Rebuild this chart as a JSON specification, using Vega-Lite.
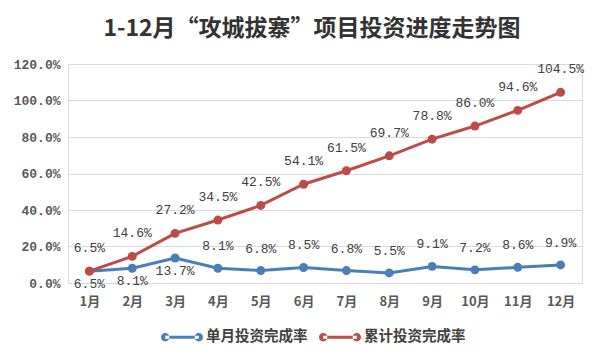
{
  "$schema": "https://vega.github.io/schema/vega-lite/v6.json",
  "width": 514,
  "height": 219,
  "autosize": {"type": "none"},
  "padding": {"left": 68, "top": 64, "right": 21, "bottom": 80},
  "background": "white",
  "title": {
    "text": "1-12月“攻城拔寨”项目投资进度走势图",
    "font": "Noto Sans CJK SC",
    "fontSize": 23,
    "fontWeight": "bold",
    "color": "#333333",
    "anchor": "middle",
    "dx": -13,
    "offset": 17
  },
  "data": {
    "values": [
      {"month": "1月", "series": "单月投资完成率", "value": 0.065},
      {"month": "2月", "series": "单月投资完成率", "value": 0.081},
      {"month": "3月", "series": "单月投资完成率", "value": 0.137},
      {"month": "4月", "series": "单月投资完成率", "value": 0.081},
      {"month": "5月", "series": "单月投资完成率", "value": 0.068},
      {"month": "6月", "series": "单月投资完成率", "value": 0.085},
      {"month": "7月", "series": "单月投资完成率", "value": 0.068},
      {"month": "8月", "series": "单月投资完成率", "value": 0.055},
      {"month": "9月", "series": "单月投资完成率", "value": 0.091},
      {"month": "10月", "series": "单月投资完成率", "value": 0.072},
      {"month": "11月", "series": "单月投资完成率", "value": 0.086},
      {"month": "12月", "series": "单月投资完成率", "value": 0.099},
      {"month": "1月", "series": "累计投资完成率", "value": 0.065},
      {"month": "2月", "series": "累计投资完成率", "value": 0.146},
      {"month": "3月", "series": "累计投资完成率", "value": 0.272},
      {"month": "4月", "series": "累计投资完成率", "value": 0.345},
      {"month": "5月", "series": "累计投资完成率", "value": 0.425},
      {"month": "6月", "series": "累计投资完成率", "value": 0.541},
      {"month": "7月", "series": "累计投资完成率", "value": 0.615},
      {"month": "8月", "series": "累计投资完成率", "value": 0.697},
      {"month": "9月", "series": "累计投资完成率", "value": 0.788},
      {"month": "10月", "series": "累计投资完成率", "value": 0.860},
      {"month": "11月", "series": "累计投资完成率", "value": 0.946},
      {"month": "12月", "series": "累计投资完成率", "value": 1.045}
    ]
  },
  "encoding": {
    "x": {
      "field": "month",
      "type": "ordinal",
      "sort": null,
      "scale": {"padding": 0.5},
      "axis": {
        "title": null,
        "labelAngle": 0,
        "domain": false,
        "ticks": false,
        "grid": false,
        "labelFont": "Noto Sans CJK SC",
        "labelFontSize": 13,
        "labelFontWeight": "bold",
        "labelColor": "#595959",
        "labelPadding": 12
      }
    },
    "y": {
      "field": "value",
      "type": "quantitative",
      "scale": {"domain": [0, 1.2], "nice": false},
      "axis": {
        "title": null,
        "format": ".1%",
        "values": [0, 0.2, 0.4, 0.6, 0.8, 1.0, 1.2],
        "domain": false,
        "ticks": false,
        "gridColor": "#d9d9d9",
        "gridWidth": 1,
        "labelFont": "Liberation Mono",
        "labelFontSize": 13,
        "labelFontWeight": "bold",
        "labelColor": "#595959",
        "labelPadding": 8
      }
    },
    "color": {
      "field": "series",
      "type": "nominal",
      "sort": ["单月投资完成率", "累计投资完成率"],
      "scale": {"range": ["#4A7EBB", "#BE4B48"]},
      "legend": {
        "title": null,
        "orient": "none",
        "direction": "horizontal",
        "legendX": 93,
        "legendY": 252,
        "symbolType": "M-0.8,-0.075 L0.8,-0.075 L0.8,0.075 L-0.8,0.075 Z M-1,0 A0.2,0.2 0 1,0 -0.6,0 A0.2,0.2 0 1,0 -1,0 Z M0.6,0 A0.2,0.2 0 1,0 1,0 A0.2,0.2 0 1,0 0.6,0 Z",
        "symbolSize": 1764,
        "symbolStrokeWidth": 0,
        "symbolOpacity": 1,
        "labelFont": "Noto Sans CJK SC",
        "labelFontSize": 14.5,
        "labelFontWeight": "bold",
        "labelColor": "#404040",
        "labelOffset": 3,
        "columnPadding": 11,
        "labelLimit": 200,
        "encode": {
          "symbols": {
            "update": {
              "fill": {"scale": "color", "field": "value"},
              "stroke": {"value": "transparent"},
              "strokeWidth": {"value": 0},
              "size": {"value": 1764},
              "shape": {"value": "M-0.8,-0.075 L0.8,-0.075 L0.8,0.075 L-0.8,0.075 Z M-1,0 A0.2,0.2 0 1,0 -0.6,0 A0.2,0.2 0 1,0 -1,0 Z M0.6,0 A0.2,0.2 0 1,0 1,0 A0.2,0.2 0 1,0 0.6,0 Z"}
            }
          }
        }
      }
    }
  },
  "layer": [
    {
      "mark": {"type": "line", "strokeWidth": 3}
    },
    {
      "mark": {"type": "point", "shape": "circle", "filled": true, "size": 80, "opacity": 1}
    },
    {
      "transform": [{"filter": "datum.series === '累计投资完成率'"}],
      "mark": {"type": "text", "dy": -23, "baseline": "middle", "font": "Liberation Mono", "fontSize": 13, "color": "#404040"},
      "encoding": {"text": {"field": "value", "type": "quantitative", "format": ".1%"}, "color": {"value": "#404040"}}
    },
    {
      "transform": [{"filter": "datum.series === '单月投资完成率' && indexof(['1月','2月','3月'], datum.month) < 0"}],
      "mark": {"type": "text", "dy": -22, "baseline": "middle", "font": "Liberation Mono", "fontSize": 13, "color": "#404040"},
      "encoding": {"text": {"field": "value", "type": "quantitative", "format": ".1%"}, "color": {"value": "#404040"}}
    },
    {
      "transform": [{"filter": "datum.series === '单月投资完成率' && indexof(['1月','2月','3月'], datum.month) >= 0"}],
      "mark": {"type": "text", "dy": 13, "baseline": "middle", "font": "Liberation Mono", "fontSize": 13, "color": "#404040"},
      "encoding": {"text": {"field": "value", "type": "quantitative", "format": ".1%"}, "color": {"value": "#404040"}}
    }
  ]
}
